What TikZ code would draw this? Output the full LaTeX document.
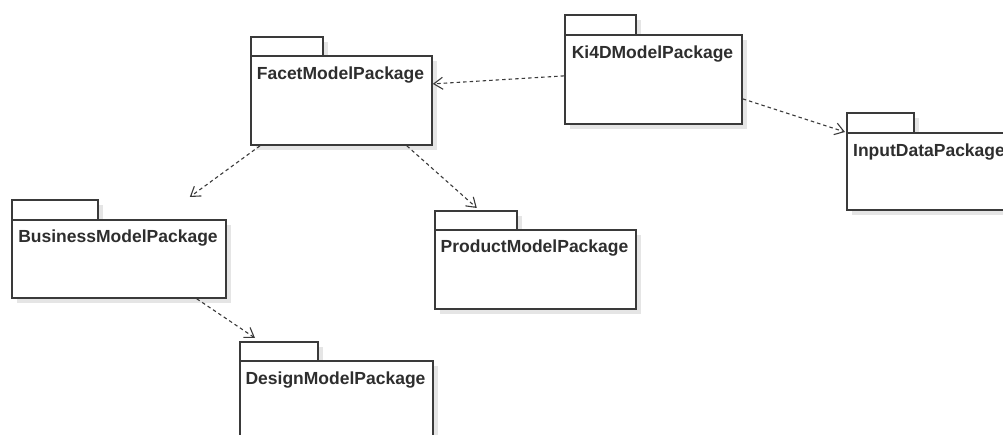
\documentclass[tikz,border=0pt]{standalone}
\usepackage{fontspec}
\setmainfont{Liberation Sans}
\usetikzlibrary{arrows.meta,shadows}
\definecolor{linec}{HTML}{3A3A3A}
\definecolor{textc}{HTML}{2E2E2E}
\tikzset{
  pkgbody/.style={draw=linec, line width=1.8pt, fill=white, anchor=north west, inner sep=0pt,
    drop shadow={shadow xshift=5pt, shadow yshift=-5pt, opacity=0.1, fill=black}},
  pkgtab/.style={draw=linec, line width=1.8pt, fill=white, anchor=north west, inner sep=0pt,
    drop shadow={shadow xshift=5pt, shadow yshift=-5pt, opacity=0.1, fill=black}},
  pkgname/.style={anchor=base, font=\bfseries\fontsize{17.5}{20}\selectfont, text=textc, inner sep=0pt},
  dep/.style={draw=linec, line width=1.1pt, dash pattern=on 3.5pt off 3pt,
    -{Straight Barb[length=9pt,width=12pt,line width=1.1pt]}},
}
\begin{document}
\begin{tikzpicture}[x=1pt,y=-1pt]
\useasboundingbox (0,0) rectangle (1003,435);
% Facet
\node[pkgtab, minimum width=72pt, minimum height=19pt] (ftab) at (250,36) {};
\node[pkgbody, minimum width=181pt, minimum height=89pt] (facet) at (250,55) {};
\node[pkgname] (facett) at (340.5,80) {FacetModelPackage};
% Ki4D
\node[pkgtab, minimum width=71pt, minimum height=20pt] (ktab) at (564,14) {};
\node[pkgbody, minimum width=177pt, minimum height=89pt] (ki4d) at (564,34) {};
\node[pkgname] (ki4dt) at (652.5,58.5) {Ki4DModelPackage};
% InputData
\node[pkgtab, minimum width=67pt, minimum height=20pt] (itab) at (846,112) {};
\node[pkgbody, minimum width=166pt, minimum height=77pt] (input) at (846,132) {};
\node[pkgname] (inputt) at (929,156.5) {InputDataPackage};
% Business
\node[pkgtab, minimum width=86pt, minimum height=20pt] (btab) at (11,199) {};
\node[pkgbody, minimum width=214pt, minimum height=78pt] (business) at (11,219) {};
\node[pkgname] (businesst) at (118,242.5) {BusinessModelPackage};
% Product
\node[pkgtab, minimum width=82pt, minimum height=19pt] (ptab) at (434,210) {};
\node[pkgbody, minimum width=201pt, minimum height=79pt] (product) at (434,229) {};
\node[pkgname] (productt) at (534.5,253) {ProductModelPackage};
% Design
\node[pkgtab, minimum width=78pt, minimum height=19pt] (dtab) at (239,341) {};
\node[pkgbody, minimum width=193pt, minimum height=90pt] (design) at (239,360) {};
\node[pkgname] (designt) at (335.5,384) {DesignModelPackage};
% dependencies
\draw[dep] ([yshift=3.5pt]ki4d.west) -- ([yshift=16.5pt]facet.east);
\draw[dep] ([yshift=-19.5pt]ki4d.east) -- ([xshift=-1pt]input.north west);
\draw[dep] ([xshift=10pt]facet.south west) -- ([xshift=91pt,yshift=2pt]btab.north east);
\draw[dep] ([xshift=-26pt]facet.south east) -- ([xshift=-41pt,yshift=2pt]ptab.north east);
\draw[dep] ([xshift=-30pt]business.south east) -- ([xshift=16pt,yshift=3pt]dtab.north west);
\end{tikzpicture}
\end{document}
